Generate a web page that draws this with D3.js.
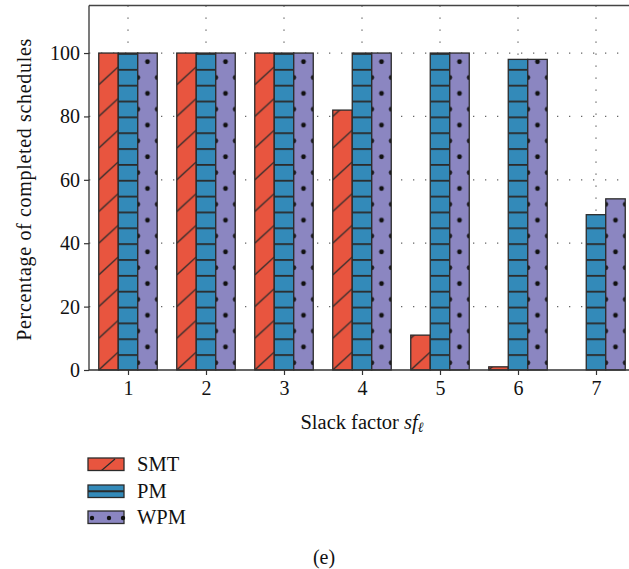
<!DOCTYPE html>
<html>
<head>
<meta charset="utf-8">
<script src="https://cdn.jsdelivr.net/npm/d3@7"></script>
<style>
  html, body { margin: 0; padding: 0; background: #fff; }
  svg { display: block; }
</style>
</head>
<body>
<svg id="chart" width="629" height="569"></svg>
<script>
const categories = [1, 2, 3, 4, 5, 6, 7];
const seriesNames = ['SMT', 'PM', 'WPM'];
const smt = [100, 100, 100, 82, 11, 1, 0];
const pm = [100, 100, 100, 100, 100, 98, 49];
const wpm = [100, 100, 100, 100, 100, 98, 54];
const yTicks = [0, 20, 40, 60, 80, 100];

const FONT = 'Liberation Serif';
const colors = { SMT: '#e8553f', PM: '#338ab9', WPM: '#8b86c1' };
const stroke = '#2b2b2b';

const svg = d3.select('#chart');
const defs = svg.append('defs');

const x = d3.scaleLinear().domain([0.5, 7.5]).range([89, 635]);
const y = d3.scaleLinear().domain([0, 115]).range([370, 5.5]);
const barW = x(1.25) - x(1);
const offsets = { SMT: -0.375, PM: -0.125, WPM: 0.125 };

// dotted grid
const grid = svg.append('g').attr('stroke', '#666').attr('stroke-width', 1.3)
  .attr('stroke-dasharray', '1.3,10.7');
grid.selectAll('.gx').data(categories).enter().append('line')
  .attr('x1', d => x(d)).attr('x2', d => x(d))
  .attr('y1', y(115)).attr('y2', y(0));
grid.selectAll('.gy').data(yTicks.slice(1)).enter().append('line')
  .attr('x1', x(0.5)).attr('x2', 629)
  .attr('y1', d => y(d)).attr('y2', d => y(d));

// per-bar fill patterns anchored to bar edge and baseline
const unit5 = y(0) - y(5);
function makePattern(id, name, bx) {
  const base = y(0);
  if (name === 'SMT') {
    const h = unit5 * 2;
    const p = defs.append('pattern').attr('id', id).attr('patternUnits', 'userSpaceOnUse')
      .attr('x', bx).attr('y', base).attr('width', barW).attr('height', h);
    p.append('rect').attr('width', barW).attr('height', h).attr('fill', colors.SMT);
    p.append('line').attr('x1', 0).attr('y1', h).attr('x2', barW).attr('y2', h - barW * 0.92)
      .attr('stroke', stroke).attr('stroke-width', 1.3);
    p.append('line').attr('x1', 0).attr('y1', 0).attr('x2', barW).attr('y2', -barW * 0.92)
      .attr('stroke', stroke).attr('stroke-width', 1.3);
  } else if (name === 'PM') {
    const h = unit5;
    const p = defs.append('pattern').attr('id', id).attr('patternUnits', 'userSpaceOnUse')
      .attr('x', bx).attr('y', base).attr('width', barW).attr('height', h);
    p.append('rect').attr('width', barW).attr('height', h).attr('fill', colors.PM);
    p.append('rect').attr('x', 0).attr('y', 0).attr('width', barW).attr('height', 1.8).attr('fill', stroke);
  } else {
    const h = unit5 * 2;
    const p = defs.append('pattern').attr('id', id).attr('patternUnits', 'userSpaceOnUse')
      .attr('x', bx).attr('y', base).attr('width', barW).attr('height', h);
    p.append('rect').attr('width', barW).attr('height', h).attr('fill', colors.WPM);
    p.append('circle').attr('cx', barW / 2).attr('cy', 8.7).attr('r', 2.4).attr('fill', '#111');
    p.append('circle').attr('cx', 0).attr('cy', 8.7 + unit5).attr('r', 2.4).attr('fill', '#111');
    p.append('circle').attr('cx', barW).attr('cy', 8.7 + unit5).attr('r', 2.4).attr('fill', '#111');
  }
}

const series = [
  { name: 'SMT', values: smt },
  { name: 'PM', values: pm },
  { name: 'WPM', values: wpm }
];

const bars = svg.append('g');
series.forEach(s => {
  s.values.forEach((v, i) => {
    const bx = x(categories[i] + offsets[s.name]);
    const id = `pat-${s.name}-${i}`;
    makePattern(id, s.name, bx);
    bars.append('rect')
      .attr('x', bx).attr('y', y(v))
      .attr('width', barW).attr('height', y(0) - y(v))
      .attr('fill', `url(#${id})`)
      .attr('stroke', stroke).attr('stroke-width', 1.3);
  });
});

// frame (top + left)
svg.append('line').attr('x1', x(0.5)).attr('x2', 629).attr('y1', y(115)).attr('y2', y(115))
  .attr('stroke', '#444').attr('stroke-width', 1.5);

// axes
const yAxis = svg.append('g').attr('transform', `translate(${x(0.5)},0)`)
  .call(d3.axisLeft(y).tickValues(yTicks).tickSize(5).tickPadding(4));
yAxis.select('.domain').attr('d', `M0,${y(115)}V${y(0)}`).attr('stroke', '#333').attr('stroke-width', 1.3);

const xAxis = svg.append('g').attr('transform', `translate(0,${y(0)})`)
  .call(d3.axisBottom(x).tickValues(categories).tickSize(5).tickPadding(6).tickFormat(d3.format('d')));
xAxis.select('.domain').attr('d', `M${x(0.5)},0H629`).attr('stroke', '#333').attr('stroke-width', 1.3);

svg.selectAll('.tick line').attr('stroke', '#333').attr('stroke-width', 1.2);
svg.selectAll('.tick text').attr('font-family', FONT)
  .attr('font-size', 20).attr('fill', '#111');

// axis titles
svg.append('text')
  .attr('transform', `translate(31,${(y(0) + y(115)) / 2 + 2}) rotate(-90)`)
  .attr('text-anchor', 'middle').attr('font-family', FONT).attr('font-size', 20).attr('fill', '#111')
  .attr('textLength', 302).attr('lengthAdjust', 'spacing')
  .text('Percentage of completed schedules');

const xl = svg.append('text')
  .attr('x', x(4)).attr('y', 429).attr('text-anchor', 'middle')
  .attr('font-family', FONT).attr('font-size', 20.5).attr('fill', '#111');
xl.append('tspan').text('Slack factor ');
xl.append('tspan').attr('font-style', 'italic').text('sf');
xl.append('tspan').attr('font-style', 'italic').attr('font-size', 14).attr('dy', 3).text('ℓ');

// legend
const legend = svg.append('g');
const legRows = [
  { name: 'SMT', y0: 458 },
  { name: 'PM', y0: 485 },
  { name: 'WPM', y0: 511 }
];
legRows.forEach(r => {
  const g = legend.append('g');
  g.append('rect').attr('x', 88).attr('y', r.y0).attr('width', 36).attr('height', 12.5)
    .attr('fill', colors[r.name]).attr('stroke', stroke).attr('stroke-width', 1.3);
  if (r.name === 'SMT') {
    g.append('line').attr('x1', 101.5).attr('y1', r.y0 + 12.5).attr('x2', 115).attr('y2', r.y0 + 1)
      .attr('stroke', stroke).attr('stroke-width', 1.2);
  } else if (r.name === 'PM') {
    g.append('line').attr('x1', 88).attr('x2', 124).attr('y1', r.y0 + 6.25).attr('y2', r.y0 + 6.25)
      .attr('stroke', stroke).attr('stroke-width', 1.8);
  } else {
    [92, 109, 123].forEach(cx => g.append('circle').attr('cx', cx).attr('cy', r.y0 + 7).attr('r', 2.2).attr('fill', '#111'));
  }
  g.append('text').attr('x', 137).attr('y', r.y0 + 12.5).attr('font-family', FONT)
    .attr('font-size', 20.5).attr('fill', '#111').text(r.name);
});

// panel caption
svg.append('text').attr('x', 324).attr('y', 564).attr('text-anchor', 'middle')
  .attr('font-family', FONT).attr('font-size', 20).attr('fill', '#111').text('(e)');
</script>
</body>
</html>
